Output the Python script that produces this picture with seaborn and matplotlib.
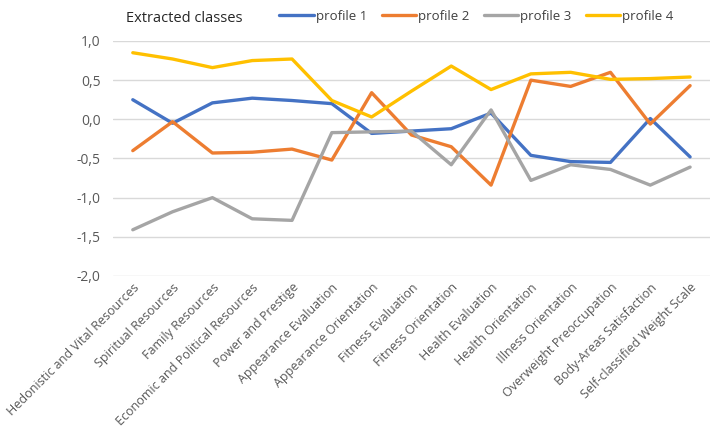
import pandas as pd
import matplotlib.pyplot as plt
import seaborn as sns

categories = [
    "Hedonistic and Vital Resources", "Spiritual Resources", "Family Resources",
    "Economic and Political Resources", "Power and Prestige", "Appearance Evaluation",
    "Appearance Orientation", "Fitness Evaluation", "Fitness Orientation",
    "Health Evaluation", "Health Orientation", "Illness Orientation",
    "Overweight Preoccupation", "Body-Areas Satisfaction", "Self-classified Weight Scale",
]
profile_1 = [0.25, -0.05, 0.21, 0.27, 0.24, 0.20, -0.18, -0.15, -0.12, 0.08, -0.46, -0.54, -0.55, 0.01, -0.48]
profile_2 = [-0.40, -0.03, -0.43, -0.42, -0.38, -0.52, 0.34, -0.20, -0.35, -0.84, 0.50, 0.42, 0.60, -0.06, 0.43]
profile_3 = [-1.41, -1.18, -1.00, -1.27, -1.29, -0.17, -0.16, -0.15, -0.58, 0.12, -0.78, -0.58, -0.64, -0.84, -0.61]
profile_4 = [0.85, 0.77, 0.66, 0.75, 0.77, 0.24, 0.03, 0.36, 0.68, 0.38, 0.58, 0.60, 0.51, 0.52, 0.54]
profile_names = ["profile 1", "profile 2", "profile 3", "profile 4"]
colors = ["#4472C4", "#ED7D31", "#A5A5A5", "#FFC000"]

rows = []
for name, vals in zip(profile_names, [profile_1, profile_2, profile_3, profile_4]):
    for i, v in enumerate(vals):
        rows.append({"idx": i, "value": v, "profile": name})
df = pd.DataFrame(rows)

sns.set_style("white")
plt.rcParams["font.family"] = ["Open Sans", "DejaVu Sans"]

fig = plt.figure(figsize=(7.1, 4.36), dpi=100)
ax = fig.add_axes([0.159, 0.367, 0.841, 0.539])

sns.lineplot(data=df, x="idx", y="value", hue="profile", palette=colors,
             linewidth=2.4, ax=ax, legend=False)

yticks = [1.0, 0.5, 0.0, -0.5, -1.0, -1.5, -2.0]
ax.set_xlim(-0.5, len(categories) - 0.5)
ax.set_ylim(-2.0, 1.0)
ax.set_yticks(yticks)
ax.set_yticklabels([f"{t:.1f}".replace(".", ",") for t in yticks])
ax.set_xticks(range(len(categories)))
ax.set_xticklabels(categories, rotation=45, ha="right", rotation_mode="anchor")
ax.tick_params(axis="both", length=0, labelsize=9, colors="#595959")
ax.tick_params(axis="y", pad=9, labelsize=10)
ax.grid(axis="y", color="#D9D9D9", linewidth=1)
ax.set_axisbelow(True)
for s in ax.spines.values():
    s.set_visible(False)
ax.set_xlabel("")
ax.set_ylabel("")

fig.text(0.178, 0.975, "Extracted classes", fontsize=10.5, color="#262626", va="top")

handles = [plt.Line2D([0], [0], color=c, linewidth=2.4) for c in colors]
fig.legend(handles, profile_names, ncol=4, loc="upper right", bbox_to_anchor=(0.965, 1.005),
           frameon=False, fontsize=9.5, handlelength=2.6, handletextpad=0.15, columnspacing=1.1,
           labelcolor="#404040")

fig.savefig("out.png", dpi=100)
